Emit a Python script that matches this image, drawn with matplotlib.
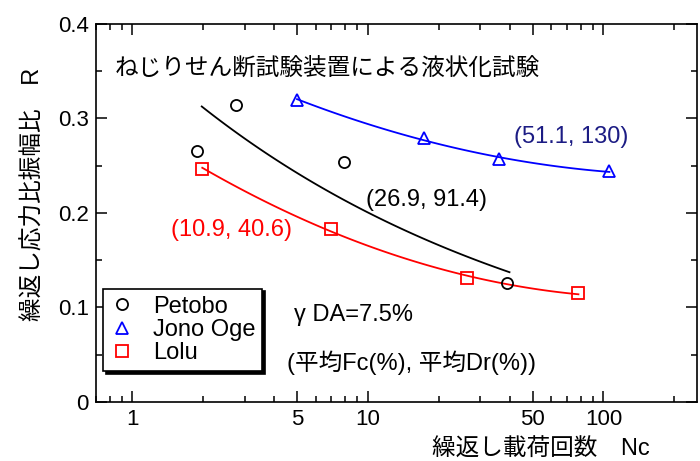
import numpy as np
import matplotlib
matplotlib.use("Agg")
import matplotlib.pyplot as plt
from matplotlib.ticker import FixedLocator, FuncFormatter, NullFormatter

plt.rcParams['font.family'] = ['Liberation Sans', 'Noto Sans CJK JP']
plt.rcParams['font.size'] = 16

# cyclic stress ratio vs number of cycles (torsional shear tests)
petobo_nc = [1.88, 2.76, 7.9, 38.8]
petobo_r = [0.266, 0.314, 0.254, 0.126]
jono_nc = [5.0, 17.3, 35.9, 106.0]
jono_r = [0.320, 0.279, 0.257, 0.244]
lolu_nc = [1.98, 6.97, 26.3, 78.3]
lolu_r = [0.247, 0.183, 0.131, 0.115]

petobo_range = (1.97, 39.9)

x_major = [1, 5, 10, 50, 100]
x_minor = [0.7, 0.8, 0.9, 2, 3, 4, 6, 7, 8, 9, 20, 30, 40, 60, 70, 80, 90, 200]
y_major = [0, 0.1, 0.2, 0.3, 0.4]
y_minor = [0.05, 0.15, 0.25, 0.35]

navy = '#1c1c84'
fs = 17

fig = plt.figure(figsize=(7.0, 4.61), dpi=100)
ax = fig.add_axes([0.137, 0.128, 0.859, 0.820])
ax.set_xscale('log')
ax.set_xlim(0.7, 250)
ax.set_ylim(0, 0.4)

# power-law fit for Petobo
b, loga = np.polyfit(np.log(petobo_nc), np.log(petobo_r), 1)
xs = np.geomspace(petobo_range[0], petobo_range[1], 100)
ax.plot(xs, np.exp(loga) * xs ** b, color='black', lw=1.3)

# smooth fits through Jono Oge and Lolu
for nc, r, col in [(jono_nc, jono_r, 'blue'), (lolu_nc, lolu_r, 'red')]:
    c = np.polyfit(np.log10(nc), r, 2)
    xs = np.geomspace(nc[0], nc[-1], 100)
    ax.plot(xs, np.polyval(c, np.log10(xs)), color=col, lw=1.3)

ms = 8
ax.plot(petobo_nc, petobo_r, 'o', mfc='none', mec='black', mew=1.3, ms=ms, label='Petobo')
ax.plot(jono_nc, jono_r, '^', mfc='none', mec='blue', mew=1.3, ms=ms + 1, label='Jono Oge')
ax.plot(lolu_nc, lolu_r, 's', mfc='none', mec='red', mew=1.3, ms=ms, label='Lolu')

ax.xaxis.set_major_locator(FixedLocator(x_major))
ax.xaxis.set_minor_locator(FixedLocator(x_minor))
ax.xaxis.set_major_formatter(FuncFormatter(lambda v, p: '%g' % v))
ax.xaxis.set_minor_formatter(NullFormatter())
ax.yaxis.set_major_locator(FixedLocator(y_major))
ax.yaxis.set_minor_locator(FixedLocator(y_minor))
ax.yaxis.set_major_formatter(FuncFormatter(lambda v, p: '%g' % v))

ax.tick_params(which='both', direction='in', top=True, right=True, width=1.1)
ax.tick_params(which='major', length=8, labelsize=16, pad=5)
ax.tick_params(which='minor', length=4)
for s in ax.spines.values():
    s.set_linewidth(1.2)

ax.set_xlabel('繰返し載荷回数　Nc', fontsize=fs, labelpad=6, x=0.74)
ax.set_ylabel('繰返し応力比振幅比　R', fontsize=fs, labelpad=10, y=0.55)

ax.text(0.84, 0.353, 'ねじりせん断試験装置による液状化試験', fontsize=fs, va='center')
ax.text(41.6, 0.280, '(51.1, 130)', color=navy, fontsize=fs, va='center')
ax.text(9.8, 0.214, '(26.9, 91.4)', color='black', fontsize=fs, va='center')
ax.text(1.46, 0.182, '(10.9, 40.6)', color='red', fontsize=fs, va='center')
ax.text(4.86, 0.092, 'γ DA=7.5%', fontsize=fs, va='center')
ax.text(4.54, 0.042, '(平均Fc(%), 平均Dr(%))', fontsize=fs, va='center')

leg = ax.legend(loc='upper left', bbox_to_anchor=(0.012, 0.30), borderaxespad=0,
                fancybox=False, edgecolor='black', framealpha=1, fontsize=fs,
                handlelength=1.0, handletextpad=0.8, labelspacing=0.05,
                borderpad=0.3,
                shadow={'facecolor': 'black', 'edgecolor': 'black', 'alpha': 1})
leg.get_frame().set_linewidth(1.2)

fig.savefig('out.png', dpi=100)
